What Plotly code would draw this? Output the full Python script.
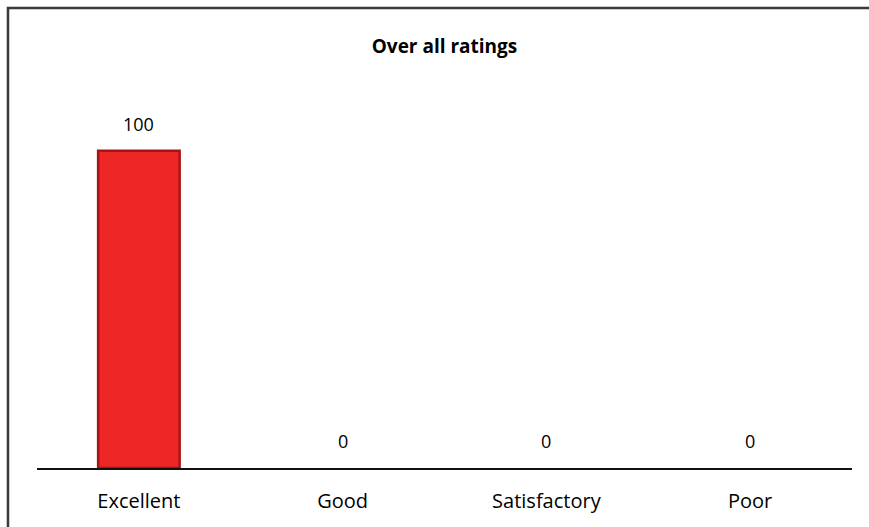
import plotly.graph_objects as go

categories = ["Excellent", "Good", "Satisfactory", "Poor"]
ratings = [100, 0, 0, 0]

FONT = "Open Sans, Liberation Sans, Arial, sans-serif"

fig = go.Figure(go.Bar(
    x=categories, y=ratings,
    marker=dict(color="#ee2626",
                line=dict(color="#a81414", width=[2.5 if v > 0 else 0 for v in ratings])),
    hoverinfo="x+y",
))

# value labels above the bars
for cat, val in zip(categories, ratings):
    fig.add_annotation(
        x=cat, y=val, text=str(val), showarrow=False,
        yanchor="bottom", yshift=13,
        font=dict(family=FONT, size=18, color="#000000"),
    )

# chart border (cut off on the right and bottom, as in the picture)
fig.add_shape(
    type="rect", xref="paper", yref="paper",
    x0=-0.0356, x1=1.06, y0=-0.25, y1=1.318,
    line=dict(color="#3a3a3a", width=2.5), layer="below",
)

fig.update_layout(
    title=dict(text="<b>Over all ratings</b>", x=0.5, xref="paper", xanchor="center",
               y=0.912, yanchor="middle",
               font=dict(family=FONT, size=19, color="#000000")),
    width=869, height=527,
    margin=dict(l=37, r=17, t=119, b=59),
    paper_bgcolor="white", plot_bgcolor="white",
    bargap=0.6, showlegend=False,
    xaxis=dict(showline=True, linecolor="#111111", linewidth=2,
               ticks="", showgrid=False, ticklabelstandoff=14,
               tickfont=dict(family=FONT, size=20, color="#000000")),
    yaxis=dict(range=[0, 110], visible=False, showgrid=False, zeroline=False),
)

fig.write_html(
    "out.html",
    config={"displayModeBar": False},
    post_script="document.body.style.margin='0';document.body.style.overflow='hidden';",
)
